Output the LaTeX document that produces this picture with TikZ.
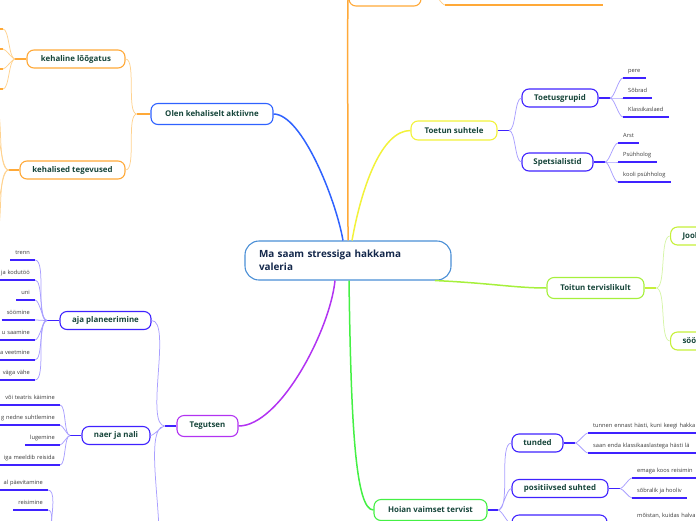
\documentclass[tikz,border=0pt]{standalone}
\usepackage{fontspec}
\setmainfont{Open Sans}
\usetikzlibrary{calc}
\definecolor{navy}{HTML}{14284B}
\definecolor{ntext}{HTML}{16453A}
\definecolor{ltext}{HTML}{3A3A3A}
\definecolor{cblue}{HTML}{4A8FD6}
\definecolor{bblue}{HTML}{2F62FF}
\definecolor{orng}{HTML}{FFA938}
\definecolor{orngL}{HTML}{FFD28F}
\definecolor{yell}{HTML}{F2F23A}
\definecolor{purp}{HTML}{B233F2}
\definecolor{indi}{HTML}{3F22FF}
\definecolor{indiL}{HTML}{A99FFF}
\definecolor{grn}{HTML}{44F044}
\definecolor{lime}{HTML}{A6F03C}
\definecolor{limeN}{HTML}{C6F03A}
\definecolor{limeL}{HTML}{D6F5A8}
\begin{document}
\begin{tikzpicture}[x=1pt,y=-1pt,
  topic/.style={draw, line width=1.1pt, rounded corners=7pt, fill=white, text=ntext,
    font=\bfseries\fontsize{7.9}{9}\selectfont, minimum height=18pt, inner sep=0pt},
  maintopic/.style={topic, minimum height=21pt},
  br/.style={line width=1.5pt},
  stub/.style={line width=1.5pt},
  thin/.style={line width=0.75pt},
  lk/.style={out=180,in=0,looseness=0.5},
  rk/.style={out=0,in=180,looseness=0.5},
  leafR/.style={font=\fontsize{5.7}{6.8}\selectfont, text=ltext, anchor=south west,
    inner xsep=5pt, inner ysep=4pt, text height=4.2pt, text depth=1.3pt},
  leafL/.style={leafR, anchor=south east},
  cutL/.style={text width=75pt, align=right},
  cutR/.style={text width=140pt, align=left},
  uline/.style={line width=1.5pt}]
\useasboundingbox (0,0) rectangle (696,520);
\clip (0,0) rectangle (696,520);

% ---------- nodes ----------
\node[draw=cblue, line width=1.1pt, rounded corners=14pt, fill=white, minimum width=206pt,
  minimum height=39pt, text width=178pt, align=left, text=navy, inner sep=0pt,
  font=\bfseries\fontsize{9.9}{12.8}\selectfont] (c) at (348,260.5) {Ma saam stressiga hakkama\\valeria};

\node[maintopic, draw=bblue, minimum width=122pt] (olen) at (212,114) {Olen kehaliselt aktiivne};
\node[maintopic, draw=yell, minimum width=86pt, minimum height=19pt] (toe) at (454,130.5) {Toetun suhtele};
\node[maintopic, draw=lime, minimum width=97pt] (toi) at (595.5,288) {Toitun tervislikult};
\node[maintopic, draw=purp, minimum width=61pt] (teg) at (207.5,426) {Tegutsen};
\node[maintopic, draw=grn, minimum width=113pt] (hoi) at (430.5,510) {Hoian vaimset tervist};
\node[maintopic, draw=orng, minimum width=72pt, minimum height=24pt] (top) at (385,-6) {};

\node[topic, draw=orng, minimum width=98pt] (klo) at (76,59) {kehaline lõõgatus};
\node[topic, draw=orng, minimum width=105pt] (kte) at (72.5,170) {kehalised tegevused};
\node[topic, draw=indi, minimum width=76pt] (tg) at (560,98) {Toetusgrupid};
\node[topic, draw=indi, minimum width=71pt] (sp) at (557.5,162) {Spetsialistid};
\node[topic, draw=limeN, anchor=west, text width=50pt, align=left, inner xsep=12pt] (jook) at (670,236) {Jook};
\node[topic, draw=limeN, anchor=west, text width=50pt, align=left, inner xsep=12pt] (soo) at (670,341) {söö};
\node[topic, draw=indi, minimum width=91pt] (aja) at (105.5,320.5) {aja planeerimine};
\node[topic, draw=indi, minimum width=68pt] (naer) at (116,435.5) {naer ja nali};
\node[topic, draw=indi, minimum width=86pt] (t3) at (105,565) {};
\node[topic, draw=indi, minimum width=51pt] (tun) at (537.5,443) {tunded};
\node[topic, draw=indi, minimum width=96pt] (pos) at (560,488.5) {positiivsed suhted};
\node[topic, draw=indi, minimum width=95pt] (h3) at (559.5,524) {};

% ---------- main branches ----------
\draw[br, orng] (c.north) .. controls (348,120) and (347,-6) .. (top.west);
\draw[br, bblue] ([xshift=-5pt]c.north) .. controls (336,200) and (302,114) .. (olen.east);
\draw[br, yell] ([xshift=4pt]c.north) .. controls (362,185) and (382,130.5) .. (toe.west);
\draw[br, purp] ([xshift=-13pt]c.south) .. controls (330,330) and (280,426) .. (teg.east);
\draw[br, grn] ([xshift=1pt]c.south) .. controls (351,420) and (355,510) .. (hoi.west);
\draw[br, lime] (c.-13) .. controls (490,283) and (515,288) .. (toi.west);

% ---------- top orange ----------
\coordinate (bTop) at (433,-6);
\coordinate (tl1) at (445,5);
\coordinate (tl2) at (603,5);
\draw[stub, orng] (top.east) -- (bTop);
\draw[thin, orngL] (bTop) to[rk] (tl1);
\draw[uline, orng] (tl1) -- (tl2);

% ---------- Olen kehaliselt aktiivne ----------
\coordinate (bO) at (137,114);
\draw[stub, orng] (olen.west) -- (bO);
\draw[thin, orngL] (bO) to[lk] (klo.east) (bO) to[lk] (kte.east);

\coordinate (bK) at (15,59);
\draw[stub, orng] (klo.west) -- (bK);
\foreach \i/\yy in {1/29,2/49,3/69,4/89}{
  \coordinate (kl\i) at (3,\yy);
  \coordinate (kle\i) at (-12,\yy);
  \draw[thin, orngL] (bK) to[lk] (kl\i);
  \draw[uline, orng] (kl\i) -- (kle\i);
}
\coordinate (bK2) at (9,170);
\draw[stub, orng] (kte.west) -- (bK2);
\foreach \i/\yy in {1/100,2/125,3/215,4/240}{
  \coordinate (kt\i) at (-8,\yy);
  \draw[thin, orngL] (bK2) to[lk] (kt\i);
}

% ---------- Tegutsen ----------
\coordinate (bT) at (165,426);
\draw[stub, indi] (teg.west) -- (bT);
\draw[thin, indiL] (bT) to[lk] (aja.east) (bT) to[lk] (naer.east) (bT) to[lk] (t3.east);

\coordinate (bA) at (47,320.5);
\draw[stub, indi] (aja.west) -- (bA);
\node[leafL] (a1) at (35,260) {trenn};
\node[leafL, cutL] (a2) at (35,280) {ja kodutöö};
\node[leafL] (a3) at (35,300) {uni};
\node[leafL] (a4) at (35,320) {söömine};
\node[leafL, cutL] (a5) at (35,340) {u saamine};
\node[leafL, cutL] (a6) at (35,360) {a veetmine};
\node[leafL, cutL] (a7) at (35,380) {väga vähe};
\foreach \n in {a1,a2,a3,a4,a5,a6,a7}{
  \draw[thin, indiL] (bA) to[lk] (\n.south east);
  \draw[uline, indi] (\n.south west) -- (\n.south east);
}

\coordinate (bN) at (70,435.5);
\draw[stub, indi] (naer.west) -- (bN);
\node[leafL, cutL] (n1) at (60,405) {või teatris käimine};
\node[leafL, cutL] (n2) at (60,425) {g nedne suhtlemine};
\node[leafL] (n3) at (60,445) {lugemine};
\node[leafL, cutL] (n4) at (60,465) {iga meeldib reisida};
\foreach \n in {n1,n2,n3,n4}{
  \draw[thin, indiL] (bN) to[lk] (\n.south east);
  \draw[uline, indi] (\n.south west) -- (\n.south east);
}

\coordinate (b3) at (53,565);
\draw[stub, indi] (t3.west) -- (b3);
\node[leafL, cutL] (p1) at (48,490) {al päevitamine};
\node[leafL] (p2) at (48,510) {reisimine};
\foreach \n in {p1,p2}{
  \draw[thin, indiL] (b3) to[lk] (\n.south east);
  \draw[uline, indi] (\n.south west) -- (\n.south east);
}

% ---------- Toetun suhtele ----------
\coordinate (bS) at (509,130.5);
\draw[stub, indi] (toe.east) -- (bS);
\draw[thin, indiL] (bS) to[rk] (tg.west) (bS) to[rk] (sp.west);

\coordinate (bG) at (610,98);
\draw[stub, indi] (tg.east) -- (bG);
\node[leafR] (g1) at (623,78) {pere};
\node[leafR] (g2) at (623,98) {Sõbrad};
\node[leafR] (g3) at (623,117) {Klassikaslaed};
\foreach \n in {g1,g2,g3}{
  \draw[thin, indiL] (bG) to[rk] (\n.south west);
  \draw[uline, indi] (\n.south west) -- (\n.south east);
}

\coordinate (bP) at (605,162);
\draw[stub, indi] (sp.east) -- (bP);
\node[leafR] (s1) at (618,143) {Arst};
\node[leafR] (s2) at (618,162) {Psühholog};
\node[leafR] (s3) at (618,182) {kooli psühholog};
\foreach \n in {s1,s2,s3}{
  \draw[thin, indiL] (bP) to[rk] (\n.south west);
  \draw[uline, indi] (\n.south west) -- (\n.south east);
}

% ---------- Toitun tervislikult ----------
\coordinate (bL) at (656,288);
\draw[stub, limeN] (toi.east) -- (bL);
\draw[thin, limeL] (bL) to[rk] (jook.west) (bL) to[rk] (soo.west);

% ---------- Hoian vaimset tervist ----------
\coordinate (bH) at (498,510);
\draw[stub, indi] (hoi.east) -- (bH);
\draw[thin, indiL] (bH) to[rk] (tun.west) (bH) to[rk] (pos.west) (bH) to[rk] (h3.west);

\coordinate (bU) at (575,443);
\draw[stub, indi] (tun.east) -- (bU);
\node[leafR, cutR] (u1) at (588,433) {tunnen ennast hästi, kuni keegi hakka};
\node[leafR, cutR] (u2) at (588,453) {saan enda klassikaaslastega hästi lä};
\foreach \n in {u1,u2}{
  \draw[thin, indiL] (bU) to[rk] (\n.south west);
  \draw[uline, indi] (\n.south west) -- (\n.south east);
}

\coordinate (bV) at (620,488.5);
\draw[stub, indi] (pos.east) -- (bV);
\node[leafR, cutR] (v1) at (632,478) {emaga koos reisimin};
\node[leafR] (v2) at (632,498) {sõbralik ja hooliv};
\foreach \n in {v1,v2}{
  \draw[thin, indiL] (bV) to[rk] (\n.south west);
  \draw[uline, indi] (\n.south west) -- (\n.south east);
}

\coordinate (bW) at (619,524);
\draw[stub, indi] (h3.east) -- (bW);
\node[leafR, cutR] (w1) at (632,523) {mõistan, kuidas halva};
\draw[thin, indiL] (bW) to[rk] (w1.south west);
\draw[uline, indi] (w1.south west) -- (w1.south east);
\end{tikzpicture}
\end{document}
